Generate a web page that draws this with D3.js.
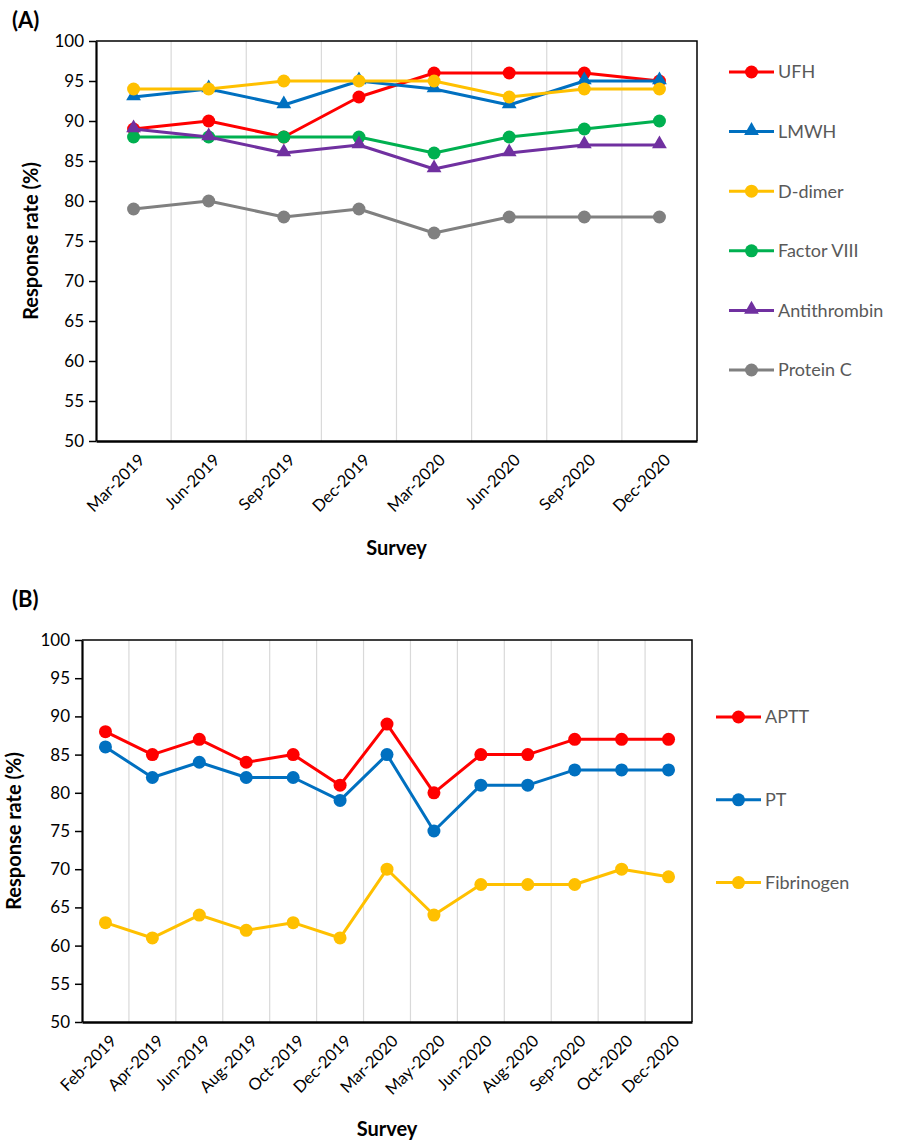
<!DOCTYPE html>
<html>
<head>
<meta charset="utf-8">
<script src="https://cdn.jsdelivr.net/npm/d3@7"></script>
<style>
    body { margin: 0; background: #fff; }
    svg { font-family: Lato, "Open Sans", sans-serif; }
</style>
</head>
<body>
<svg id="svg" width="898" height="1141"></svg>
<script>
// panel A: anticoagulant / special tests
const surveysA = ["Mar-2019", "Jun-2019", "Sep-2019", "Dec-2019", "Mar-2020", "Jun-2020", "Sep-2020", "Dec-2020"];
const ufh = [89, 90, 88, 93, 96, 96, 96, 95];
const lmwh = [93, 94, 92, 95, 94, 92, 95, 95];
const dDimer = [94, 94, 95, 95, 95, 93, 94, 94];
const factorVIII = [88, 88, 88, 88, 86, 88, 89, 90];
const antithrombin = [89, 88, 86, 87, 84, 86, 87, 87];
const proteinC = [79, 80, 78, 79, 76, 78, 78, 78];

// panel B: routine coagulation
const surveysB = ["Feb-2019", "Apr-2019", "Jun-2019", "Aug-2019", "Oct-2019", "Dec-2019", "Mar-2020",
    "May-2020", "Jun-2020", "Aug-2020", "Sep-2020", "Oct-2020", "Dec-2020"];
const aptt = [88, 85, 87, 84, 85, 81, 89, 80, 85, 85, 87, 87, 87];
const pt = [86, 82, 84, 82, 82, 79, 85, 75, 81, 81, 83, 83, 83];
const fibrinogen = [63, 61, 64, 62, 63, 61, 70, 64, 68, 68, 68, 70, 69];

const yTicks = [50, 55, 60, 65, 70, 75, 80, 85, 90, 95, 100];

const seriesA = [
    { name: "UFH", values: ufh, color: "#FF0000", marker: "circle" },
    { name: "LMWH", values: lmwh, color: "#0070C0", marker: "triangle" },
    { name: "D-dimer", values: dDimer, color: "#FFC000", marker: "circle" },
    { name: "Factor VIII", values: factorVIII, color: "#00B050", marker: "circle" },
    { name: "Antithrombin", values: antithrombin, color: "#7030A0", marker: "triangle" },
    { name: "Protein C", values: proteinC, color: "#808080", marker: "circle" }
];
const seriesB = [
    { name: "APTT", values: aptt, color: "#FF0000", marker: "circle" },
    { name: "PT", values: pt, color: "#0070C0", marker: "circle" },
    { name: "Fibrinogen", values: fibrinogen, color: "#FFC000", marker: "circle" }
];

const svg = d3.select("#svg");

function drawMarker(g, type, color) {
    if (type === "circle") {
        g.append("circle").attr("r", 6.5).attr("fill", color);
    } else {
        g.append("path")
            .attr("d", d3.symbol().type(d3.symbolTriangle).size(95)())
            .attr("transform", "translate(0,-1)")
            .attr("fill", color);
    }
}

function drawPanel(conf) {
    let g = svg.append("g");
    let x = d3.scaleBand().domain(conf.categories).range([conf.left, conf.right]);
    let y = d3.scaleLinear().domain([50, 100]).range([conf.bottom, conf.top]);

    // vertical gridlines between categories
    g.selectAll(".grid")
        .data(conf.categories.slice(1))
        .enter()
        .append("line")
        .attr("x1", (d) => x(d))
        .attr("x2", (d) => x(d))
        .attr("y1", conf.top)
        .attr("y2", conf.bottom)
        .attr("stroke", "#d9d9d9")
        .attr("stroke-width", 1.2);

    // frame top/right
    g.append("path")
        .attr("d", `M${conf.left},${conf.top}H${conf.right}V${conf.bottom}`)
        .attr("fill", "none")
        .attr("stroke", "#000")
        .attr("stroke-width", 1.5);

    // y axis
    let yAxis = g.append("g")
        .attr("transform", `translate(${conf.left},0)`)
        .call(d3.axisLeft(y).tickValues(yTicks).tickSize(7).tickSizeOuter(0).tickPadding(5));
    yAxis.select(".domain").attr("stroke", "#000").attr("stroke-width", 2.2);
    yAxis.selectAll(".tick line").attr("stroke", "#000").attr("stroke-width", 1.5);
    yAxis.selectAll(".tick text")
        .attr("font-family", "Lato, sans-serif")
        .attr("font-size", 17)
        .attr("fill", "#000");

    // x axis
    let xAxis = g.append("g")
        .attr("transform", `translate(0,${conf.bottom})`)
        .call(d3.axisBottom(x).tickSize(0).tickSizeOuter(0).tickPadding(0));
    xAxis.select(".domain").attr("stroke", "#000").attr("stroke-width", 2.6);
    xAxis.selectAll(".tick text")
        .attr("font-family", "Lato, sans-serif")
        .attr("font-size", 16.5)
        .attr("fill", "#000")
        .attr("text-anchor", "end")
        .attr("dy", "0.35em")
        .attr("transform", "translate(8,16) rotate(-45)");

    // series
    conf.series.forEach((s) => {
        let line = d3.line()
            .x((d, i) => x(conf.categories[i]) + x.bandwidth() / 2)
            .y((d) => y(d));
        g.append("path")
            .datum(s.values)
            .attr("d", line)
            .attr("fill", "none")
            .attr("stroke", s.color)
            .attr("stroke-width", 3)
            .attr("stroke-linejoin", "round");
        s.values.forEach((v, i) => {
            let m = g.append("g")
                .attr("transform", `translate(${x(conf.categories[i]) + x.bandwidth() / 2},${y(v)})`);
            drawMarker(m, s.marker, s.color);
        });
    });

    // legend
    conf.series.forEach((s, i) => {
        let ly = conf.legendY + i * conf.legendStep;
        let lg = g.append("g");
        lg.append("line")
            .attr("x1", conf.legendX)
            .attr("x2", conf.legendX + 45)
            .attr("y1", ly)
            .attr("y2", ly)
            .attr("stroke", s.color)
            .attr("stroke-width", 3);
        drawMarker(lg.append("g").attr("transform", `translate(${conf.legendX + 22.5},${ly})`), s.marker, s.color);
        lg.append("text")
            .attr("x", conf.legendX + 49)
            .attr("y", ly)
            .attr("dy", "0.36em")
            .attr("font-size", 18)
            .attr("fill", "#595959")
            .text(s.name);
    });

    // titles
    g.append("text")
        .attr("transform", `translate(${conf.yTitleX},${(conf.top + conf.bottom) / 2}) rotate(-90)`)
        .attr("text-anchor", "middle")
        .attr("font-size", 20)
        .attr("font-weight", "bold")
        .text("Response rate (%)");
    g.append("text")
        .attr("x", (conf.left + conf.right) / 2)
        .attr("y", conf.xTitleY)
        .attr("text-anchor", "middle")
        .attr("font-size", 20)
        .attr("font-weight", "bold")
        .text("Survey");
    g.append("text")
        .attr("x", 12)
        .attr("y", conf.labelY)
        .attr("font-size", 22)
        .attr("font-weight", "bold")
        .text(conf.label);
}

drawPanel({
    label: "(A)", labelY: 28,
    categories: surveysA, series: seriesA,
    left: 96, right: 697, top: 41, bottom: 441,
    legendX: 729, legendY: 72, legendStep: 59.6,
    yTitleX: 38, xTitleY: 555
});
drawPanel({
    label: "(B)", labelY: 607,
    categories: surveysB, series: seriesB,
    left: 82, right: 692, top: 640, bottom: 1022,
    legendX: 716, legendY: 717, legendStep: 82.8,
    yTitleX: 21, xTitleY: 1136
});
</script>
</body>
</html>
